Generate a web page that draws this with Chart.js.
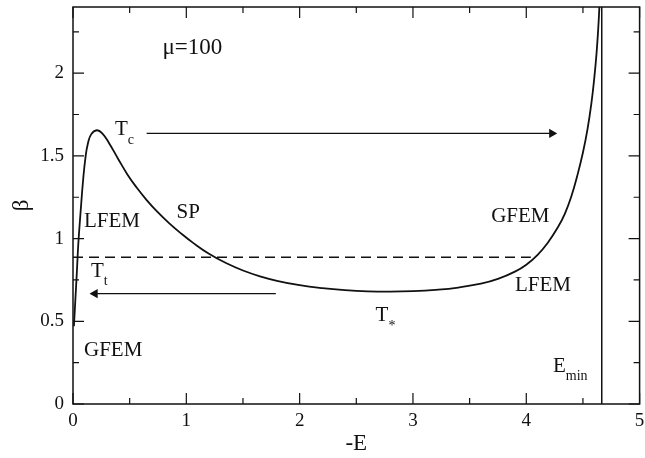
<!DOCTYPE html>
<html>
<head>
<meta charset="utf-8">
<script src="https://cdn.jsdelivr.net/npm/chart.js@4.4.0/dist/chart.umd.min.js"></script>
<style>
  html, body { margin: 0; padding: 0; background: #fff; }
  #caixa { width: 645px; height: 458px; }
</style>
</head>
<body>
<div id="caixa"><canvas id="grafico"></canvas></div>
<script>
// curva beta(-E) para mu=100
const energiaCurva = [0.008, 0.02, 0.035, 0.047, 0.068, 0.09, 0.11, 0.13, 0.16, 0.21, 0.26, 0.32, 0.40, 0.48, 0.56, 0.65, 0.75, 0.85, 0.95, 1.06, 1.2, 1.35, 1.5, 1.65, 1.8, 2.0, 2.2, 2.4, 2.6, 2.8, 3.0, 3.2, 3.4, 3.6, 3.75, 3.9, 4.0, 4.1, 4.19, 4.28, 4.34, 4.4, 4.45, 4.5, 4.54, 4.575, 4.6, 4.62, 4.635, 4.645, 4.652];
const betaCurva = [0.47, 0.62, 0.81, 0.97, 1.17, 1.36, 1.49, 1.57, 1.63, 1.655, 1.635, 1.575, 1.48, 1.388, 1.31, 1.233, 1.158, 1.092, 1.033, 0.974, 0.908, 0.852, 0.807, 0.772, 0.745, 0.718, 0.700, 0.688, 0.681, 0.679, 0.682, 0.690, 0.704, 0.727, 0.756, 0.800, 0.842, 0.902, 0.975, 1.07, 1.15, 1.26, 1.38, 1.52, 1.66, 1.82, 1.97, 2.12, 2.27, 2.40, 2.52];

// transicao (tracejada) e E_min
const energiaTransicao = [0, 4.04];
const betaTransicao = [0.887, 0.887];
const energiaMinimo = [4.666, 4.666];
const betaMinimo = [0, 2.4];

// setas
const setaTcE = [0.65, 4.226];
const setaTcBeta = [1.636, 1.636];
const setaTtE = [1.79, 0.194];
const setaTtBeta = [0.667, 0.667];

// ticks
const ticksX = [0, 1, 2, 3, 4, 5];
const ticksXMenores = [0.5, 1.5, 2.5, 3.5, 4.5];
const ticksY = [0, 0.5, 1, 1.5, 2];
const ticksYMenores = [0.25, 0.75, 1.25, 1.75, 2.25];

// rotulos
const rotulos = [
    { texto: 'μ=100', sub: '', e: 0.79, beta: 2.155, tam: 23 },
    { texto: 'T', sub: 'c', e: 0.37, beta: 1.657 },
    { texto: 'SP', sub: '', e: 0.914, beta: 1.157 },
    { texto: 'LFEM', sub: '', e: 0.097, beta: 1.104 },
    { texto: 'GFEM', sub: '', e: 3.69, beta: 1.133 },
    { texto: 'T', sub: 't', e: 0.158, beta: 0.80 },
    { texto: 'LFEM', sub: '', e: 3.90, beta: 0.714 },
    { texto: 'T', sub: '*', e: 2.67, beta: 0.533 },
    { texto: 'GFEM', sub: '', e: 0.097, beta: 0.325 },
    { texto: 'E', sub: 'min', e: 4.235, beta: 0.226 }
];

const fonte = '"Liberation Serif", "Times New Roman", serif';
const corTraco = '#111';

const pares = (xs, ys) => xs.map((v, i) => ({ x: v, y: ys[i] }));

const molduraETextos = {
    id: 'molduraETextos',
    afterDatasetsDraw(chart) {
        const { ctx, chartArea: a, scales: { x, y } } = chart;
        ctx.save();
        ctx.strokeStyle = corTraco;
        ctx.lineWidth = 1.5;
        ctx.strokeRect(a.left, a.top, a.right - a.left, a.bottom - a.top);

        ctx.beginPath();
        const marcaX = (v, tam) => {
            const px = x.getPixelForValue(v);
            ctx.moveTo(px, a.bottom); ctx.lineTo(px, a.bottom - tam);
            ctx.moveTo(px, a.top); ctx.lineTo(px, a.top + tam);
        };
        const marcaY = (v, tam) => {
            const py = y.getPixelForValue(v);
            ctx.moveTo(a.left, py); ctx.lineTo(a.left + tam, py);
            ctx.moveTo(a.right, py); ctx.lineTo(a.right - tam, py);
        };
        ticksX.forEach(v => marcaX(v, 11));
        ticksXMenores.forEach(v => marcaX(v, 6));
        ticksY.forEach(v => marcaY(v, 11));
        ticksYMenores.forEach(v => marcaY(v, 6));
        ctx.lineWidth = 1.2;
        ctx.stroke();

        ctx.fillStyle = corTraco;
        ctx.textAlign = 'left';
        ctx.textBaseline = 'middle';
        rotulos.forEach(r => {
            const px = x.getPixelForValue(r.e);
            const py = y.getPixelForValue(r.beta);
            ctx.font = (r.tam || 21) + 'px ' + fonte;
            ctx.fillText(r.texto, px, py);
            if (r.sub) {
                const larg = ctx.measureText(r.texto).width;
                ctx.font = '14px ' + fonte;
                ctx.fillText(r.sub, px + larg, py + 10);
            }
        });
        ctx.restore();
    }
};

const linha = (dados, extra) => Object.assign({
    data: dados,
    showLine: true,
    borderColor: corTraco,
    backgroundColor: corTraco,
    borderWidth: 1.8,
    pointRadius: 0,
    pointHoverRadius: 0
}, extra);

new Chart(document.getElementById('grafico').getContext('2d'), {
    type: 'scatter',
    data: {
        datasets: [
            linha(pares(energiaCurva, betaCurva), { tension: 0.45 }),
            linha(pares(energiaTransicao, betaTransicao), { borderWidth: 1.6, borderDash: [10, 6] }),
            linha(pares(energiaMinimo, betaMinimo), { borderWidth: 1.5 }),
            linha(pares(setaTcE, setaTcBeta), {
                borderWidth: 1.4, pointStyle: 'triangle', pointRadius: [0, 4], rotation: 90
            }),
            linha(pares(setaTtE, setaTtBeta), {
                borderWidth: 1.4, pointStyle: 'triangle', pointRadius: [0, 4], rotation: -90
            })
        ]
    },
    options: {
        responsive: true,
        maintainAspectRatio: false,
        animation: false,
        events: [],
        layout: { padding: { top: 7, right: 3, left: 0, bottom: 0 } },
        plugins: { legend: { display: false }, tooltip: { enabled: false } },
        scales: {
            x: {
                type: 'linear',
                min: 0,
                max: 5,
                grid: { display: false, drawTicks: false },
                border: { display: false },
                afterBuildTicks: s => { s.ticks = ticksX.map(v => ({ value: v })); },
                afterFit: s => { s.height = 54; s.paddingLeft = 0; s.paddingRight = 0; },
                ticks: { color: corTraco, padding: 6, font: { family: fonte, size: 19 }, callback: v => String(v) },
                title: { display: true, text: '-E', color: corTraco, padding: { top: 4, bottom: 0 }, font: { family: fonte, size: 23 } }
            },
            y: {
                min: 0,
                max: 2.4,
                grid: { display: false, drawTicks: false },
                border: { display: false },
                afterBuildTicks: s => { s.ticks = ticksY.map(v => ({ value: v })); },
                afterFit: s => { s.width = 73; s.paddingTop = 0; s.paddingBottom = 0; },
                ticks: { color: corTraco, padding: 9, font: { family: fonte, size: 19 }, callback: v => String(v) },
                title: { display: true, text: 'β', color: corTraco, padding: { top: 8, bottom: 0 }, font: { family: fonte, size: 23 } }
            }
        }
    },
    plugins: [molduraETextos]
});
</script>
</body>
</html>
